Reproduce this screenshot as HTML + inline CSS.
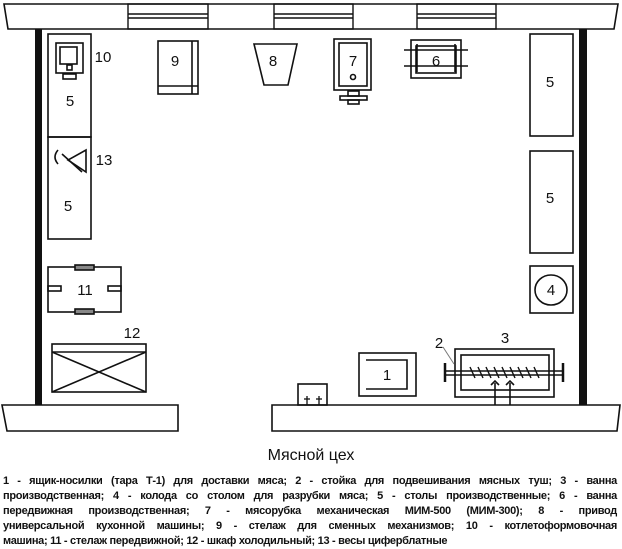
<!DOCTYPE html>
<html><head><meta charset="utf-8"><style>
body{margin:0;background:#fff;width:622px;height:548px;overflow:hidden;position:relative;font-family:"Liberation Sans",sans-serif}
svg{position:absolute;left:0;top:0}
.t{position:absolute;left:0;width:622px;text-align:center;top:447px;font-size:16px;color:#111}
.leg{position:absolute;left:3px;width:614px;top:474px;font-size:11px;font-weight:bold;line-height:15px;color:#111;letter-spacing:-0.3px}
.leg div{text-align:justify;text-align-last:justify;white-space:nowrap}
.leg div.l{text-align-last:left}
</style></head><body>
<svg width="622" height="548" viewBox="0 0 622 548" fill="none" stroke="#111" stroke-width="1.6" font-family="Liberation Sans, sans-serif">
<path d="M4 4 H618 L614 29 H8 Z" fill="#fff"/>
<g stroke-width="1.4">
<rect x="128" y="4" width="80" height="25"/><line x1="128" y1="14" x2="208" y2="14"/><line x1="128" y1="18" x2="208" y2="18"/>
<rect x="274" y="4" width="79" height="25"/><line x1="274" y1="14" x2="353" y2="14"/><line x1="274" y1="18" x2="353" y2="18"/>
<rect x="417" y="4" width="79" height="25"/><line x1="417" y1="14" x2="496" y2="14"/><line x1="417" y1="18" x2="496" y2="18"/>
</g>
<rect x="35" y="29" width="7" height="376" fill="#111" stroke="none"/>
<rect x="579" y="29" width="8" height="376" fill="#111" stroke="none"/>
<path d="M2 405 H178 V431 H7 Z" fill="#fff"/>
<path d="M272 405 H620 L617 431 H272 Z" fill="#fff"/>
<rect x="48" y="34" width="43" height="103"/>
<rect x="48" y="137" width="43" height="102"/>
<rect x="56" y="43" width="27" height="30"/><rect x="60" y="47" width="17" height="17"/>
<rect x="67" y="65" width="5" height="5"/><rect x="63" y="74" width="13" height="5"/>
<path d="M86 150 L86 172 L68 160 Z"/><line x1="62" y1="154" x2="82" y2="172"/>
<path d="M58 150 Q52 157 58 164"/>
<rect x="158" y="41" width="40" height="53"/><line x1="192" y1="41" x2="192" y2="94"/><line x1="158" y1="86" x2="198" y2="86"/>
<path d="M254 44 H297 L288 85 H264 Z"/>
<rect x="334" y="39" width="37" height="51"/><rect x="339" y="43" width="28" height="43"/>
<circle cx="353" cy="77" r="2.5"/>
<rect x="348" y="91" width="11" height="5"/><rect x="340" y="96" width="27" height="4"/><rect x="348" y="100" width="11" height="4"/>
<rect x="411" y="40" width="50" height="38"/><rect x="416" y="46" width="40" height="27"/>
<line x1="404" y1="50" x2="468" y2="50"/><line x1="404" y1="66" x2="468" y2="66"/>
<line x1="417" y1="44" x2="417" y2="72"/><line x1="455" y1="44" x2="455" y2="72"/>
<rect x="530" y="34" width="43" height="102"/>
<rect x="530" y="151" width="43" height="102"/>
<rect x="530" y="266" width="43" height="47"/><ellipse cx="551" cy="290" rx="16" ry="15"/>
<rect x="48" y="267" width="73" height="45"/>
<rect x="75" y="265" width="19" height="5" fill="#888"/><rect x="75" y="309" width="19" height="5" fill="#888"/>
<rect x="48" y="286" width="13" height="5"/><rect x="108" y="286" width="13" height="5"/>
<rect x="52" y="344" width="94" height="48"/><line x1="52" y1="352" x2="146" y2="352"/>
<line x1="52" y1="352" x2="146" y2="392"/><line x1="146" y1="352" x2="52" y2="392"/>
<rect x="298" y="384" width="29" height="21"/>
<g stroke-width="1.3"><line x1="304" y1="399" x2="310" y2="399"/><line x1="307" y1="396" x2="307" y2="405"/>
<line x1="316" y1="399" x2="322" y2="399"/><line x1="319" y1="396" x2="319" y2="405"/></g>
<rect x="359" y="353" width="57" height="43"/><path d="M366 360 H407 V389 H366"/>
<rect x="455" y="349" width="99" height="48"/><rect x="461" y="355" width="88" height="35"/>
<line x1="445" y1="371" x2="563" y2="371"/><line x1="445" y1="375" x2="563" y2="375"/>
<line x1="445" y1="363" x2="445" y2="382" stroke-width="2.5"/><line x1="563" y1="363" x2="563" y2="382" stroke-width="2.5"/>
<g stroke-width="1.4"><path d="M470 367 l5 11 M478 367 l5 11 M486 367 l5 11 M494 367 l5 11 M502 367 l5 11 M510 367 l5 11 M518 367 l5 11 M526 367 l5 11 M534 367 l5 11"/></g>
<line x1="495" y1="383" x2="495" y2="405"/><line x1="510" y1="383" x2="510" y2="405"/>
<path d="M491 385 L495 381 L499 385 M506 385 L510 381 L514 385"/>
<line x1="443" y1="347" x2="454" y2="364" stroke="#777" stroke-width="1"/>
<g fill="#111" stroke="none" font-size="15" text-anchor="middle">
<text x="70" y="106">5</text><text x="68" y="211">5</text><text x="550" y="87">5</text><text x="550" y="203">5</text>
<text x="103" y="62">10</text><text x="104" y="165">13</text>
<text x="175" y="66">9</text><text x="273" y="66">8</text><text x="353" y="66">7</text><text x="436" y="66">6</text>
<text x="551" y="295">4</text><text x="85" y="295">11</text><text x="132" y="338">12</text>
<text x="387" y="380">1</text><text x="505" y="343">3</text><text x="439" y="348">2</text>
</g>
</svg>
<div class="t">Мясной цех</div>
<div class="leg">
<div>1 - ящик-носилки (тара Т-1) для доставки мяса; 2 - стойка для подвешивания мясных туш; 3 - ванна</div>
<div>производственная; 4 - колода со столом для разрубки мяса; 5 - столы производственные; 6 - ванна</div>
<div>передвижная производственная; 7 - мясорубка механическая МИМ-500 (МИМ-300); 8 - привод</div>
<div>универсальной кухонной машины; 9 - стелаж для сменных механизмов; 10 - котлетоформовочная</div>
<div class="l">машина; 11 - стелаж передвижной; 12 - шкаф холодильный; 13 - весы циферблатные</div>
</div>
</body></html>
